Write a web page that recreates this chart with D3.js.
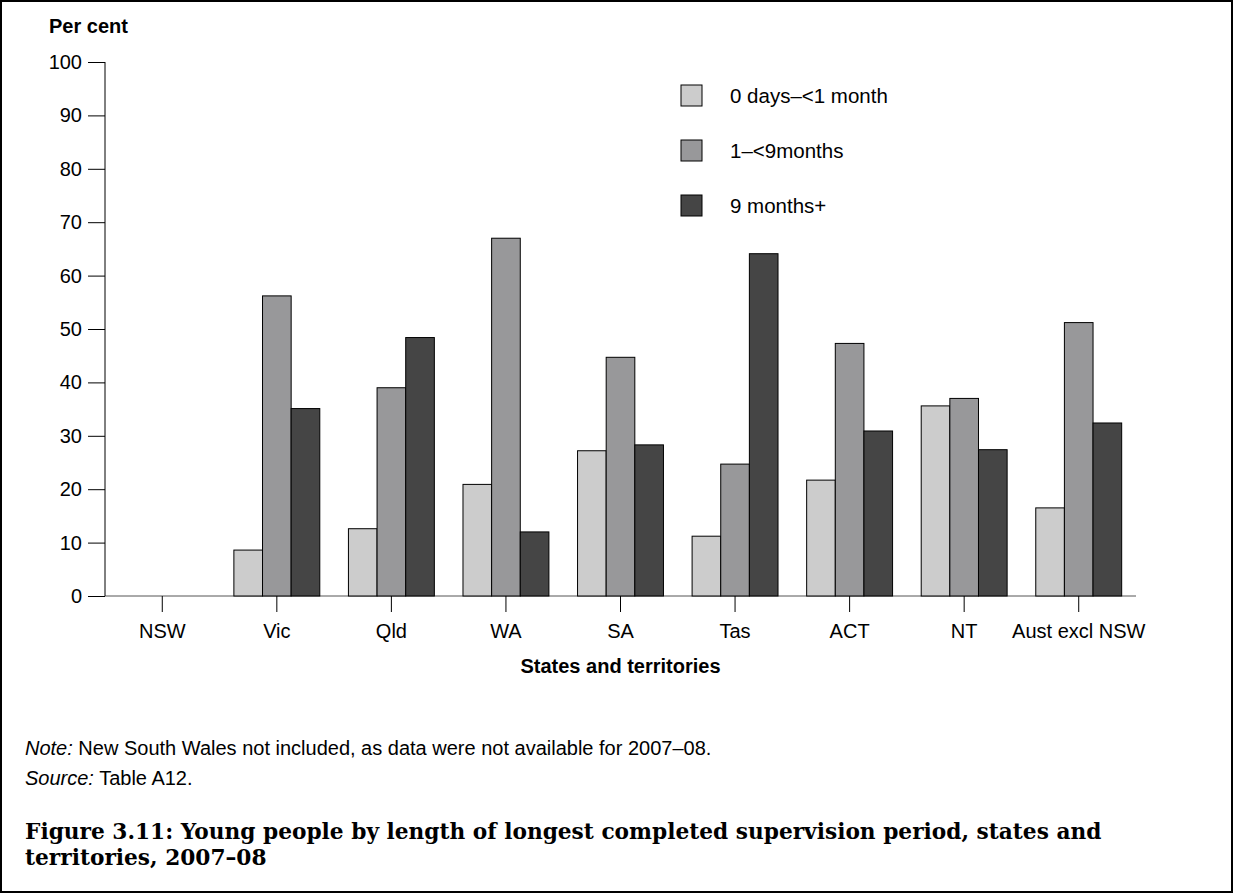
<!DOCTYPE html>
<html lang="en">
<head>
<meta charset="utf-8">
<title>Figure 3.11</title>
<script src="https://d3js.org/d3.v7.min.js"></script>
<style>
  body { margin: 0; background: #fff; }
  svg text { font-family: "Liberation Sans", Arial, sans-serif; fill: #000; }
  .tick text { font-size: 20px; font-family: "Liberation Sans", Arial, sans-serif; }
  .title { font-family: "DejaVu Serif", serif !important; font-weight: bold; font-size: 21.7px; }
</style>
</head>
<body>
<svg width="1234" height="894"></svg>
<script>
// data
var states = ["NSW", "Vic", "Qld", "WA", "SA", "Tas", "ACT", "NT", "Aust excl NSW"];
var seriesNames = ["0 days\u2013<1 month", "1\u2013<9months", "9 months+"];
var underOneMonth = [0, 8.6, 12.6, 20.9, 27.2, 11.2, 21.7, 35.6, 16.5];
var oneToNine = [0, 56.2, 39.0, 67.0, 44.7, 24.7, 47.3, 37.0, 51.2];
var ninePlus = [0, 35.1, 48.4, 12.0, 28.3, 64.1, 30.9, 27.4, 32.4];
var yTicks = [0, 10, 20, 30, 40, 50, 60, 70, 80, 90, 100];
var colours = ["#cccccc", "#98989a", "#454545"];

var svg = d3.select("svg");

// frame
svg.append("rect")
    .attr("x", 1).attr("y", 1)
    .attr("width", 1231).attr("height", 891)
    .attr("fill", "none").attr("stroke", "#000").attr("stroke-width", 2);

var plotLeft = 105, plotRight = 1136, plotTop = 62, plotBottom = 596;

var x = d3.scaleBand().domain(states).range([plotLeft, plotRight]).paddingInner(0.25).paddingOuter(0.125);
var xOuter = d3.scaleBand().domain(states).range([plotLeft, plotRight]);
var x1 = d3.scaleBand().domain(d3.range(3)).range([0, x.bandwidth()]);
var y = d3.scaleLinear().domain([0, 100]).range([plotBottom, plotTop]);

var rows = states.map(function(s, i) {
  return {state: s, values: [underOneMonth[i], oneToNine[i], ninePlus[i]]};
});

// x axis line first so bars sit on top of it
var xAxis = svg.append("g")
    .attr("transform", "translate(0," + plotBottom + ")")
    .call(d3.axisBottom(xOuter).tickSize(16).tickPadding(12));
xAxis.select(".domain").attr("d", "M" + plotLeft + ",0H" + plotRight).attr("stroke", "#555");
xAxis.selectAll("line").attr("stroke", "#000");

// bars
var groups = svg.selectAll(".grp")
  .data(rows)
  .enter().append("g")
    .attr("class", "grp")
    .attr("transform", function(d) { return "translate(" + x(d.state) + ",0)"; });

groups.selectAll("rect")
  .data(function(d) { return d.values.map(function(v, k) { return {k: k, v: v}; }).filter(function(d) { return d.v > 0; }); })
  .enter().append("rect")
    .attr("x", function(d) { return x1(d.k); })
    .attr("y", function(d) { return y(d.v); })
    .attr("width", x1.bandwidth())
    .attr("height", function(d) { return plotBottom - y(d.v); })
    .attr("fill", function(d) { return colours[d.k]; })
    .attr("stroke", "#000")
    .attr("stroke-width", 1);

// y axis
var yAxis = svg.append("g")
    .attr("transform", "translate(" + plotLeft + ",0)")
    .call(d3.axisLeft(y).tickValues(yTicks).tickSize(17).tickPadding(6));
yAxis.selectAll("line, path").attr("stroke", "#000");
yAxis.select(".domain").attr("d", "M0," + plotTop + "V" + plotBottom);

svg.append("text")
    .attr("x", 49).attr("y", 33)
    .style("font-size", "20px").style("font-weight", "bold")
    .text("Per cent");

svg.append("text")
    .attr("x", (plotLeft + plotRight) / 2).attr("y", 673)
    .attr("text-anchor", "middle")
    .style("font-size", "20px").style("font-weight", "bold")
    .text("States and territories");

// legend
var legend = svg.append("g").attr("transform", "translate(681,85)");
var li = legend.selectAll("g")
  .data(seriesNames)
  .enter().append("g")
    .attr("transform", function(d, i) { return "translate(0," + i * 55 + ")"; });
li.append("rect")
    .attr("width", 21).attr("height", 21)
    .attr("fill", function(d, i) { return colours[i]; })
    .attr("stroke", "#000");
li.append("text")
    .attr("x", 49).attr("y", 18)
    .style("font-size", "20.5px")
    .text(function(d) { return d; });

// notes
var note = svg.append("text").attr("x", 25).attr("y", 755).style("font-size", "20px");
note.append("tspan").style("font-style", "italic").text("Note:");
note.append("tspan").text(" New South Wales not included, as data were not available for 2007\u201308.");

var src = svg.append("text").attr("x", 25).attr("y", 785).style("font-size", "20px");
src.append("tspan").style("font-style", "italic").text("Source:");
src.append("tspan").text(" Table A12.");

svg.append("text").attr("class", "title")
    .attr("x", 25).attr("y", 839)
    .text("Figure 3.11: Young people by length of longest completed supervision period, states and");
svg.append("text").attr("class", "title")
    .attr("x", 25).attr("y", 865)
    .text("territories, 2007\u201308");
</script>
</body>
</html>
